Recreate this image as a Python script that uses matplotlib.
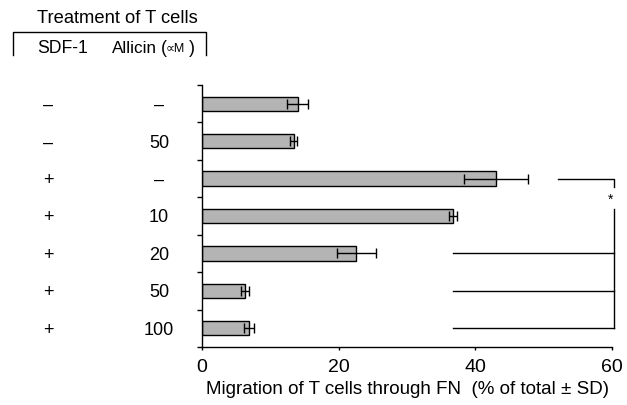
import numpy as np
import matplotlib
matplotlib.use("Agg")
import matplotlib.pyplot as plt
from matplotlib.transforms import blended_transform_factory

plt.rcParams['font.family'] = ['Liberation Sans', 'DejaVu Sans']

# data
sdf1 = ["–", "–", "+", "+", "+", "+", "+"]
allicin = ["–", "50", "–", "10", "20", "50", "100"]
migration = [14.0, 13.4, 43.0, 36.7, 22.6, 6.3, 6.9]
sd = [1.5, 0.5, 4.7, 0.6, 2.8, 0.6, 0.7]
# rows compared against row 2 (SDF-1 alone)
compared_rows = [4, 5, 6]

W, H = 627, 405
fig = plt.figure(figsize=(W / 100, H / 100), dpi=100)
ax = fig.add_axes([202 / W, 58 / H, 410 / W, 262 / H])

rows = np.arange(len(migration))
ax.barh(rows, migration, height=0.385, color='#b4b4b4', edgecolor='black',
        linewidth=1.0)
ax.errorbar(migration, rows, xerr=sd, fmt='none', ecolor='black',
            elinewidth=1.0, capsize=3.6, capthick=1.0)

ax.set_ylim(len(migration) - 0.5, -0.5)
ax.set_xlim(0, 60)
ax.set_yticks(np.arange(-0.5, len(migration)))
ax.set_yticklabels([])
ax.set_xticks([0, 20, 40, 60])
ax.tick_params(axis='y', direction='out', length=3.6, width=1)
ax.tick_params(axis='x', direction='out', length=2.5, width=1, labelsize=14,
               pad=6)
for side in ['top', 'right']:
    ax.spines[side].set_visible(False)
ax.spines['left'].set_linewidth(1)
ax.spines['bottom'].set_linewidth(1)
ax.set_xlabel("Migration of T cells through FN  (% of total \u00b1 SD)",
              fontsize=13.5, labelpad=4)

# significance bracket
bx = 60.25
ax.plot([52.1, bx, bx], [2, 2, 2.22], color='black', lw=1, clip_on=False)
ax.plot([bx, bx], [2.8, 6], color='black', lw=1, clip_on=False)
for r in compared_rows:
    ax.plot([36.7, bx], [r, r], color='black', lw=1, clip_on=False)
ax.text(59.85, 2.68, "*", ha='center', va='baseline', fontsize=10,
        clip_on=False)

# treatment table on the left
trans = blended_transform_factory(fig.transFigure, ax.transData)
for i in rows:
    ax.text(48 / W, i, sdf1[i], transform=trans, ha='center',
            va='center_baseline', fontsize=13, clip_on=False)
    ax.text(159 / W, i, allicin[i], transform=trans, ha='center',
            va='center_baseline', fontsize=13, clip_on=False)

fig.text(37 / W, 1 - 23 / H, "Treatment of T cells", fontsize=13.2,
         va='baseline', ha='left')
fig.text(37 / W, 1 - 53 / H, "SDF-1", fontsize=12.7, va='baseline', ha='left')
fig.text(112 / W, 1 - 53 / H, "Allicin", fontsize=12.3, va='baseline', ha='left')
fig.text(161 / W, 1 - 53 / H, "(", fontsize=12.7, va='baseline', ha='left')
fig.text(165.5 / W, 1 - 52 / H, "\u221dM", fontsize=9, va='baseline', ha='left')
fig.text(189 / W, 1 - 53 / H, ")", fontsize=12.7, va='baseline', ha='left')
box_x = [13 / W, 13 / W, 206 / W, 206 / W]
box_y = [1 - 55 / H, 1 - 32 / H, 1 - 32 / H, 1 - 55 / H]
fig.add_artist(plt.Line2D(box_x, box_y, color='black', lw=1))

fig.savefig("out.png", dpi=100)
